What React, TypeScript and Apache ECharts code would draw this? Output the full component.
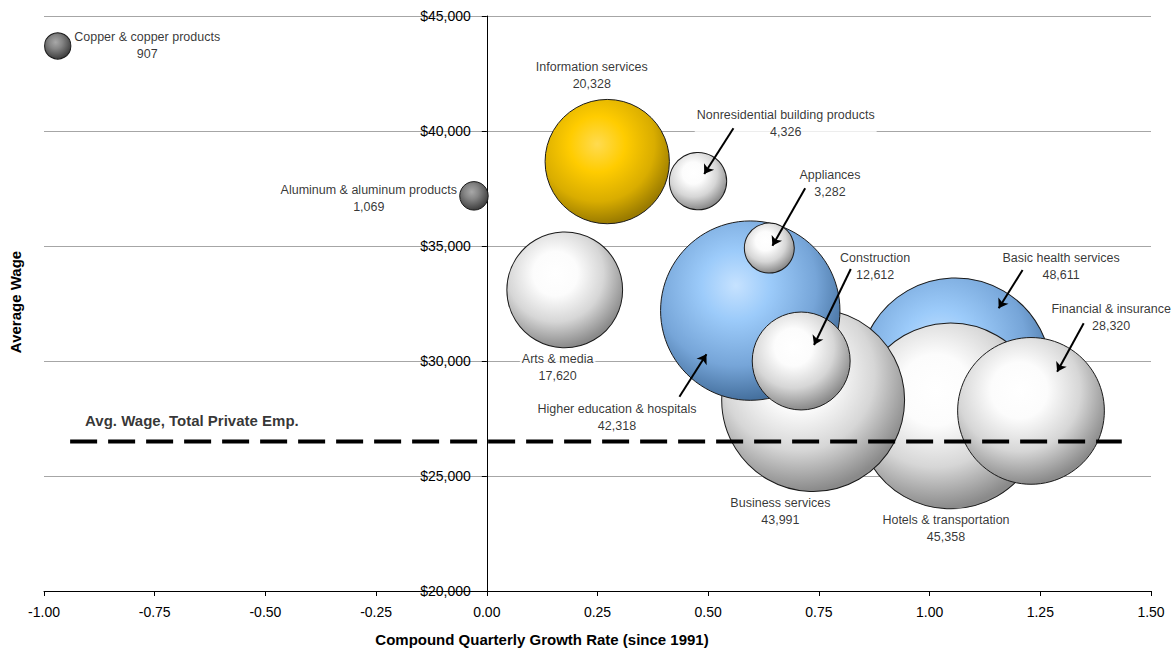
import React, { useEffect, useRef } from "react";
import * as echarts from "echarts";

const industries = [
  "Copper & copper products",
  "Aluminum & aluminum products",
  "Information services",
  "Nonresidential building products",
  "Arts & media",
  "Basic health services",
  "Hotels & transportation",
  "Financial & insurance",
  "Business services",
  "Higher education & hospitals",
  "Construction",
  "Appliances",
];
const growthRate = [-0.969, -0.029, 0.272, 0.477, 0.176, 1.058, 1.047, 1.229, 0.737, 0.595, 0.71, 0.638];
const avgWage = [43700, 37180, 38670, 37820, 33090, 29430, 27610, 27830, 28300, 32190, 30000, 34910];
const employment = [907, 1069, 20328, 4326, 17620, 48611, 45358, 28320, 43991, 42318, 12612, 3282];
const colorGroup = ["dark", "dark", "gold", "white", "white", "blue", "white", "white", "white", "blue", "white", "white"];

// label anchors (data coordinates)
const labelX = [-0.767, -0.2665, 0.237, 0.675, 0.16, 1.297, 1.037, 1.41, 0.663, 0.294, 0.877, 0.775];
const labelY = [43696, 37078, 42422, 40313, 29726, 34117, 22696, 31891, 23448, 27543, 34117, 37725];

// leader arrows (data coordinates)
const arrowFrom = [[0.557, 40117], [0.719, 37509], [0.822, 34000], [1.21, 33957], [1.348, 31639], [0.435, 28448]];
const arrowTo = [[0.491, 38130], [0.645, 35013], [0.739, 30696], [1.156, 32291], [1.288, 29535], [0.496, 30290]];

const totalPrivateWage = 26500;
const avgLineX = [-0.941, 1.434];
const avgLabelPos = [-0.666, 27434];
const avgLabelText = "Avg. Wage, Total Private Emp.";

const xTicks = { min: -1, max: 1.5, interval: 0.25 };
const yTicks = { min: 20000, max: 45000, interval: 5000 };

const FONT = '"Liberation Sans", Arial, Helvetica, sans-serif';

const W = 1172;
const H = 648;
const GRID = { left: 44, right: 21, top: 16, bottom: 57 };

const gradients: Record<string, any> = {
  white: {
    type: "radial", x: 0.42, y: 0.36, r: 0.64,
    colorStops: [
      { offset: 0, color: "#ffffff" },
      { offset: 0.3, color: "#fcfcfc" },
      { offset: 0.65, color: "#d6d6d6" },
      { offset: 1, color: "#8a8a8a" },
    ],
  },
  blue: {
    type: "radial", x: 0.42, y: 0.36, r: 0.64,
    colorStops: [
      { offset: 0, color: "#c6e2ff" },
      { offset: 0.3, color: "#9ccbfa" },
      { offset: 0.7, color: "#76a5d8" },
      { offset: 1, color: "#45709e" },
    ],
  },
  gold: {
    type: "radial", x: 0.42, y: 0.36, r: 0.64,
    colorStops: [
      { offset: 0, color: "#ffdb50" },
      { offset: 0.35, color: "#ffcc00" },
      { offset: 0.72, color: "#d9ad00" },
      { offset: 1, color: "#9a7b00" },
    ],
  },
  dark: {
    type: "radial", x: 0.42, y: 0.36, r: 0.64,
    colorStops: [
      { offset: 0, color: "#a8a8a8" },
      { offset: 0.4, color: "#858585" },
      { offset: 1, color: "#3e3e3e" },
    ],
  },
};

const fmt = (n: number) => n.toLocaleString("en-US");

export default function App() {
  const ref = useRef<HTMLDivElement>(null);

  useEffect(() => {
    document.body.style.margin = "0";
    const chart = echarts.init(ref.current!, null, { renderer: "svg" });

    const bubbleData = industries.map((name, i) => ({
      name,
      value: [growthRate[i], avgWage[i], employment[i]],
      itemStyle: { color: gradients[colorGroup[i]] },
    }));

    const labelData = industries.map((name, i) => ({
      name,
      value: [labelX[i], labelY[i], employment[i]],
    }));

    const arrowData = arrowFrom.map((from, i) => ({ coords: [from, arrowTo[i]] }));

    // place the value axis on x = 0
    const plotWidth = W - GRID.left - GRID.right;
    const yAxisOffset = -plotWidth * (0 - xTicks.min) / (xTicks.max - xTicks.min);

    chart.setOption({
      animation: false,
      backgroundColor: "#ffffff",
      grid: {
        left: GRID.left,
        right: GRID.right,
        top: GRID.top,
        bottom: GRID.bottom,
        containLabel: false,
        outerBoundsMode: "none",
      },
      xAxis: {
        type: "value",
        min: xTicks.min,
        max: xTicks.max,
        interval: xTicks.interval,
        axisLine: { show: true, onZero: false, lineStyle: { color: "#000", width: 1 } },
        axisTick: { show: true, length: 5, lineStyle: { color: "#000" } },
        axisLabel: {
          formatter: (v: number) => v.toFixed(2),
          color: "#000",
          fontSize: 14,
          fontFamily: FONT,
          margin: 14,
        },
        splitLine: { show: false },
      },
      yAxis: {
        type: "value",
        position: "left",
        offset: yAxisOffset,
        min: yTicks.min,
        max: yTicks.max,
        interval: yTicks.interval,
        axisLine: { show: true, onZero: false, lineStyle: { color: "#000", width: 1 } },
        axisTick: { show: true, length: 5, lineStyle: { color: "#000" } },
        axisLabel: {
          formatter: (v: number) => "$" + fmt(v),
          color: "#000",
          fontSize: 14,
          fontFamily: FONT,
          margin: 16,
        },
        splitLine: { show: true, lineStyle: { color: "#a6a6a6", width: 1 } },
      },
      series: [
        {
          type: "scatter",
          z: 2,
          data: bubbleData,
          symbol: "circle",
          symbolSize: (val: number[]) => 2 * 0.436 * Math.sqrt(val[2]),
          itemStyle: { borderColor: "#1a1a1a", borderWidth: 1, opacity: 1 },
          emphasis: { disabled: true },
          silent: true,
        },
        {
          type: "line",
          z: 3,
          data: [
            [avgLineX[0], totalPrivateWage],
            [avgLineX[1], totalPrivateWage],
          ],
          symbol: "none",
          lineStyle: { color: "#000", width: 4, type: [27, 11] },
          silent: true,
        },
        {
          type: "scatter",
          z: 4,
          symbolSize: 0,
          silent: true,
          data: labelData,
          label: {
            show: true,
            position: "inside",
            formatter: (p: any) => p.name + "\n" + fmt(p.value[2]),
            color: "#000",
            fontSize: 12.5,
            fontFamily: FONT,
            lineHeight: 17,
            align: "center",
            verticalAlign: "middle",
            backgroundColor: "#ffffff",
            padding: [1, 2],
          },
        },
        {
          type: "scatter",
          z: 4,
          symbolSize: 0,
          silent: true,
          data: [{ name: avgLabelText, value: avgLabelPos }],
          label: {
            show: true,
            position: "inside",
            formatter: (p: any) => p.name,
            color: "#000",
            fontSize: 15,
            fontWeight: "bold",
            fontFamily: FONT,
            align: "center",
            verticalAlign: "middle",
          },
        },
        {
          type: "lines",
          coordinateSystem: "cartesian2d",
          z: 5,
          silent: true,
          data: arrowData,
          symbol: ["none", "arrow"],
          symbolSize: [0, 9],
          lineStyle: { color: "#000", width: 2, opacity: 1 },
        },
      ],
      graphic: [
        {
          type: "text",
          x: 15,
          y: 302,
          rotation: Math.PI / 2,
          style: {
            text: "Average Wage",
            fill: "#000",
            font: `bold 15px ${FONT}`,
            align: "center",
            verticalAlign: "middle",
          },
        },
        {
          type: "text",
          x: 542,
          y: 639,
          style: {
            text: "Compound Quarterly Growth Rate (since 1991)",
            fill: "#000",
            font: `bold 15px ${FONT}`,
            align: "center",
            verticalAlign: "middle",
          },
        },
      ],
    });

    return () => chart.dispose();
  }, []);

  return (
    <div
      ref={ref}
      style={{ position: "fixed", left: 0, top: 0, width: W, height: H }}
    />
  );
}
